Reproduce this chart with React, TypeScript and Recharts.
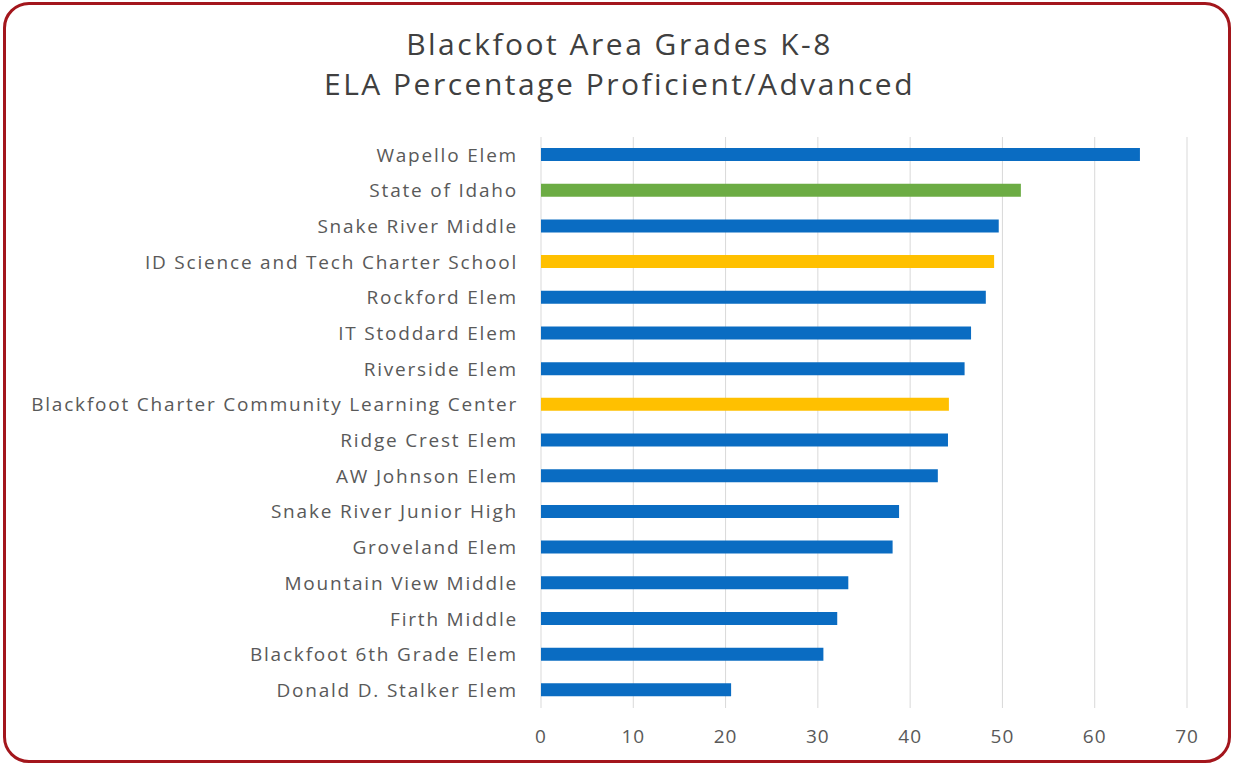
import { Bar, BarChart, CartesianGrid, Cell, XAxis, YAxis } from 'recharts';

const schools = [
  'Wapello Elem',
  'State of Idaho',
  'Snake River Middle',
  'ID Science and Tech Charter School',
  'Rockford Elem',
  'IT Stoddard Elem',
  'Riverside Elem',
  'Blackfoot Charter Community Learning Center',
  'Ridge Crest Elem',
  'AW Johnson Elem',
  'Snake River Junior High',
  'Groveland Elem',
  'Mountain View Middle',
  'Firth Middle',
  'Blackfoot 6th Grade Elem',
  'Donald D. Stalker Elem',
];

const proficient = [64.9, 52.0, 49.6, 49.1, 48.2, 46.6, 45.9, 44.2, 44.1, 43.0, 38.8, 38.1, 33.3, 32.1, 30.6, 20.6];

const kinds = [
  'district', 'state', 'district', 'charter', 'district', 'district', 'district', 'charter',
  'district', 'district', 'district', 'district', 'district', 'district', 'district', 'district',
];

const xTicks = [0, 10, 20, 30, 40, 50, 60, 70];

const kindColors: Record<string, string> = {
  district: '#0a6cc2',
  state: '#6cac44',
  charter: '#ffc000',
};

const chartData = schools.map((name, i) => ({ name, value: proficient[i], kind: kinds[i] }));

const font = '"Open Sans", sans-serif';

export default function App() {
  return (
    <div style={{ position: 'absolute', left: 0, top: 0, width: 1233, height: 765, background: '#fff', fontFamily: font }}>
      <div
        style={{
          position: 'absolute',
          left: 3,
          top: 2,
          width: 1222,
          height: 755,
          border: '3px solid #a3161c',
          borderRadius: 26,
        }}
      />
      <div
        style={{
          position: 'absolute',
          left: 0,
          top: 24,
          width: 1233,
          textAlign: 'center',
          color: '#404040',
          fontSize: 30,
          letterSpacing: 2.5,
          lineHeight: '40px',
        }}
      >
        <div style={{ marginLeft: 6 }}>Blackfoot Area Grades K-8</div>
        <div style={{ marginLeft: 6 }}>ELA Percentage Proficient/Advanced</div>
      </div>
      <div style={{ position: 'absolute', left: 0, top: 0 }}>
        <BarChart
          width={1233}
          height={765}
          data={chartData}
          layout="vertical"
          margin={{ top: 137, right: 46, bottom: 27, left: 0 }}
          barCategoryGap={11}
        >
          <CartesianGrid horizontal={false} stroke="#d9d9d9" />
          <XAxis
            type="number"
            domain={[0, 70]}
            ticks={xTicks}
            axisLine={false}
            tickLine={false}
            tickMargin={16}
            height={30}
            tick={{ fill: '#595959', fontSize: 19, fontFamily: font, letterSpacing: 1 }}
          />
          <YAxis
            type="category"
            dataKey="name"
            width={541}
            axisLine={false}
            tickLine={false}
            tickMargin={17}
            interval={0}
            tick={{ fill: '#595959', fontSize: 19, fontFamily: font, letterSpacing: 1.8 }}
          />
          <Bar dataKey="value" barSize={13} isAnimationActive={false}>
            {chartData.map((d) => (
              <Cell key={d.name} fill={kindColors[d.kind]} />
            ))}
          </Bar>
        </BarChart>
      </div>
    </div>
  );
}
